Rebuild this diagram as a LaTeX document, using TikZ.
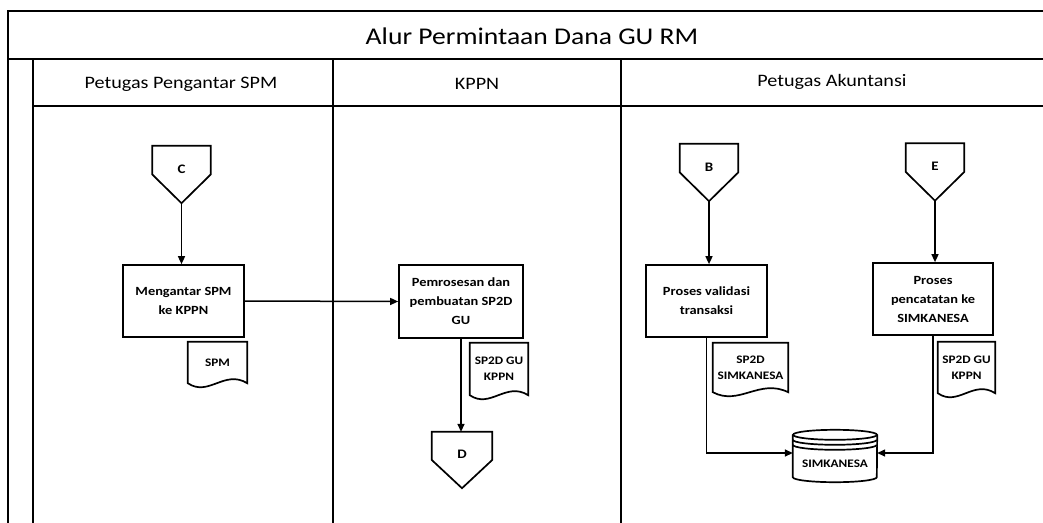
\documentclass[tikz,border=0pt]{standalone}
\usepackage{fontspec}
\setmainfont{Carlito}[FakeStretch=1.15]
\usetikzlibrary{arrows.meta,calc}

\tikzset{
  frame/.style={line width=2pt, line cap=rect},
  shapeline/.style={draw, line width=1.7pt, line join=miter},
  proc/.style={shapeline, inner sep=2pt, align=center,
    font=\bfseries\fontsize{12.5}{19}\selectfont},
  flow/.style={line width=1.5pt, -{Triangle[length=8pt,width=7pt]}},
  % off-page connector: box on top, pointed bottom
  offpage/.style={minimum width=58pt, minimum height=57pt, inner sep=0pt,
    text height=8pt, text depth=11pt, font=\bfseries\fontsize{13}{15}\selectfont,
    append after command={\pgfextra{
      \draw[shapeline] (\tikzlastnode.north west) -- (\tikzlastnode.north east)
        -- (\tikzlastnode.east) -- (\tikzlastnode.south)
        -- (\tikzlastnode.west) -- cycle;}}},
  % document symbol with a wavy lower edge
  doc/.style={inner sep=0pt, align=center,
    font=\bfseries\fontsize{11.5}{16}\selectfont,
    append after command={\pgfextra{
      \draw[shapeline] (\tikzlastnode.south west) -- (\tikzlastnode.north west)
        -- (\tikzlastnode.north east) -- (\tikzlastnode.south east)
        .. controls ($(\tikzlastnode.south west)!0.62!(\tikzlastnode.south east)+(0,-14)$)
        and ($(\tikzlastnode.south west)!0.35!(\tikzlastnode.south east)+(0,14)$)
        .. (\tikzlastnode.south west) -- cycle;}}},
  % database drum with stacked rings
  drum/.style={minimum width=84pt, minimum height=52pt, inner sep=0pt,
    text height=22pt, text depth=0pt, font=\bfseries\fontsize{11.5}{14}\selectfont,
    append after command={\pgfextra{
      \draw[shapeline] ([yshift=-5pt]\tikzlastnode.north) ellipse [x radius=42pt, y radius=5pt];
      \draw[shapeline] ([yshift=-10pt]\tikzlastnode.north west)
        arc[start angle=180, end angle=360, x radius=42pt, y radius=5pt];
      \draw[shapeline] ([yshift=-15pt]\tikzlastnode.north west)
        arc[start angle=180, end angle=360, x radius=42pt, y radius=5pt];
      \draw[shapeline] ([yshift=-5pt]\tikzlastnode.north west)
        -- ([yshift=5pt]\tikzlastnode.south west)
        arc[start angle=180, end angle=360, x radius=42pt, y radius=5pt]
        -- ([yshift=-5pt]\tikzlastnode.north east);}}},
}

\begin{document}
\begin{tikzpicture}[x=1pt, y=-1pt]
\useasboundingbox (0,0) rectangle (1043,522);
\fill[white] (0,0) rectangle (1043,522);

% pool frame and swimlanes
\draw[frame] (8,522) -- (8,11) -- (1043,11);
\draw[frame] (8,59) -- (1043,59);
\draw[frame] (33,522) -- (33,59);
\draw[frame] (33,106) -- (1043,106);
\draw[frame] (333,59) -- (333,522);
\draw[frame] (621,59) -- (621,522);

\node[font=\fontsize{24}{28}\selectfont] (title) at (532,36) {Alur Permintaan Dana GU RM};
\node[font=\fontsize{17.5}{20}\selectfont] (lane1) at (181,84) {Petugas Pengantar SPM};
\node[font=\fontsize{17.5}{20}\selectfont] (lane2) at (477,84) {KPPN};
\node[font=\fontsize{17.5}{20}\selectfont] (lane3) at (832,82) {Petugas Akuntansi};

% Petugas Pengantar SPM
\node[offpage] (C) at (181.5,174.5) {C};
\node[proc, minimum width=121pt, minimum height=72pt] (antar) at (183.5,301) {Mengantar SPM\\ke KPPN};
\node[doc, minimum width=59pt, minimum height=41pt] (spm) at (217.5,362.5) {SPM};

% KPPN
\node[proc, minimum width=124pt, minimum height=73pt] (proses) at (461,301.5) {Pemrosesan dan\\pembuatan SP2D\\GU};
\node[doc, minimum width=58pt, minimum height=52pt] (sp2dgu) at (499,369) {SP2D GU\\KPPN};
\node[offpage, minimum width=60pt, minimum height=56pt] (D) at (462,460) {D};

% Petugas Akuntansi
\node[offpage] (B) at (709,172.5) {B};
\node[offpage] (E) at (935,172) {E};
\node[proc, minimum width=121pt, minimum height=72pt] (valid) at (706.5,301) {Proses validasi\\transaksi};
\node[proc, minimum width=120pt, minimum height=72pt] (catat) at (933,299) {Proses\\pencatatan ke\\SIMKANESA};
\node[doc, minimum width=75pt, minimum height=49pt] (sp2dsim) at (750.5,367.5) {SP2D\\SIMKANESA};
\node[doc, minimum width=57pt, minimum height=51pt] (sp2dgu2) at (966.5,367.5) {SP2D GU\\KPPN};
\node[drum] (simk) at (835,456) {SIMKANESA};

% flow
\draw[flow] (C.south) -- (C.south |- antar.north);
\draw[flow] (antar.east) -- (proses.west);
\draw[flow] (proses.south) -- (proses.south |- D.north);
\draw[flow] (B.south) -- (B.south |- valid.north);
\draw[flow] (E.south) -- (E.south |- catat.north);
\draw[flow] (valid.south) |- ([yshift=3pt]simk.west);
\draw[flow] (catat.south) |- ([yshift=3pt]simk.east);
\end{tikzpicture}
\end{document}
